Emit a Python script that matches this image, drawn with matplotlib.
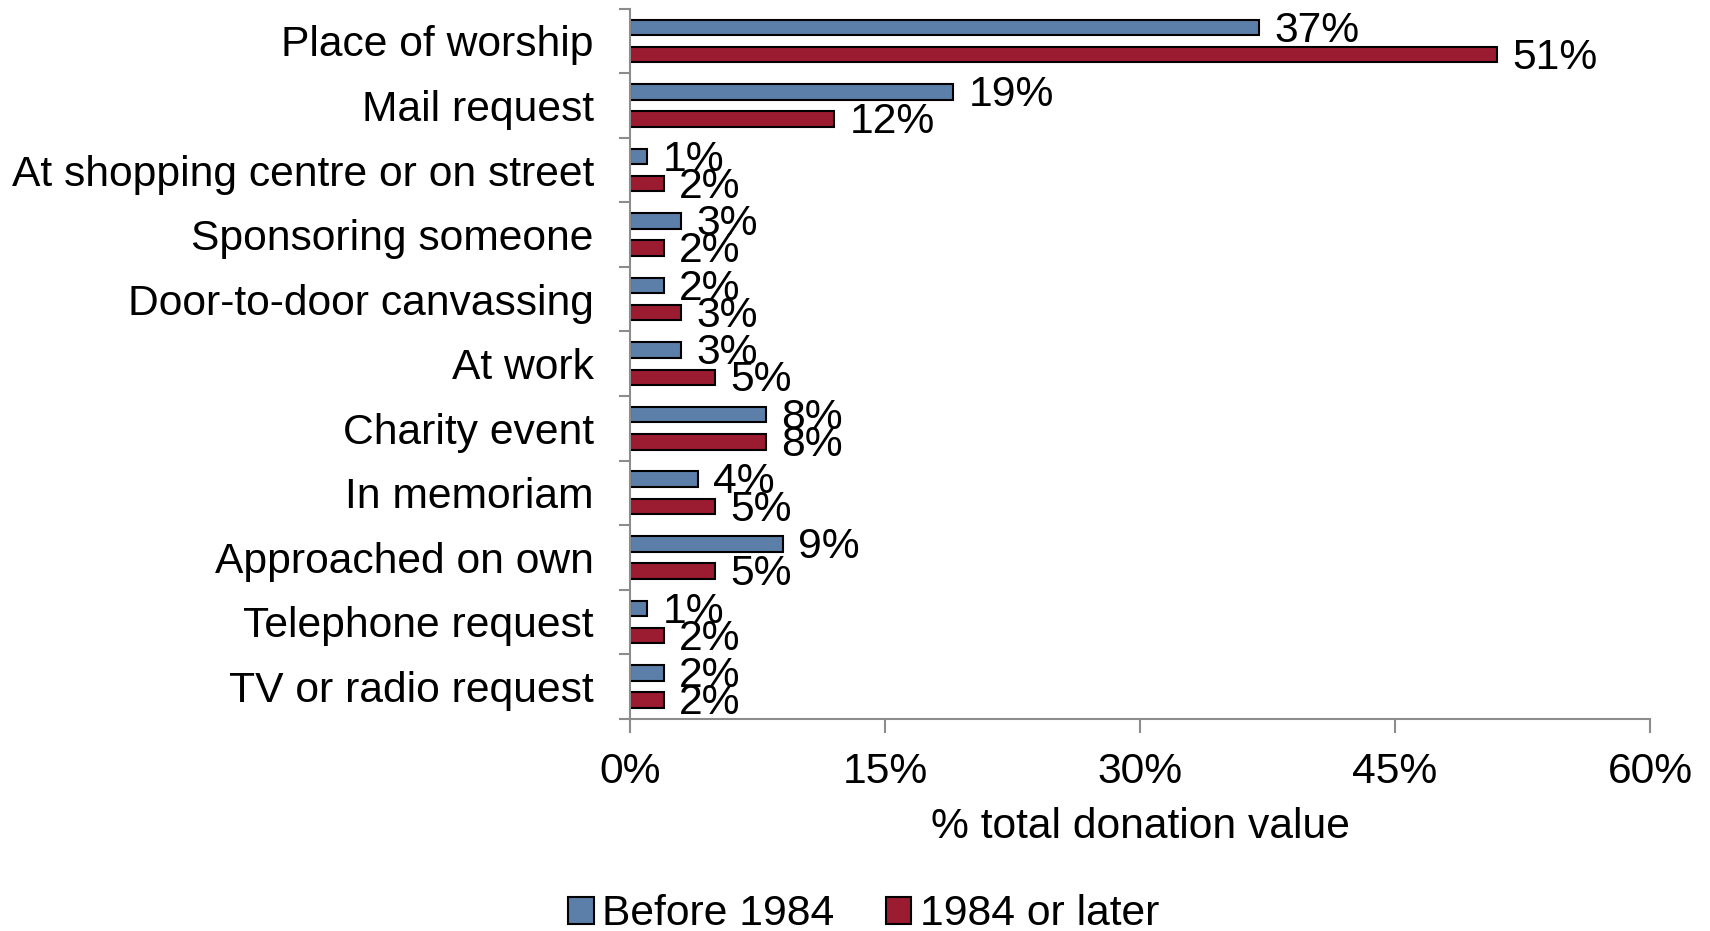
import matplotlib.pyplot as plt
import numpy as np
from matplotlib.patches import Patch
from matplotlib.ticker import FixedLocator

categories = ["Place of worship", "Mail request", "At shopping centre or on street",
              "Sponsoring someone", "Door-to-door canvassing", "At work",
              "Charity event", "In memoriam", "Approached on own",
              "Telephone request", "TV or radio request"]
before_1984 = [37, 19, 1, 3, 2, 3, 8, 4, 9, 1, 2]
after_1984 = [51, 12, 2, 2, 3, 5, 8, 5, 5, 2, 2]
x_ticks = [0, 15, 30, 45, 60]

blue = "#5b7fa8"
red = "#9b1b30"
grey = "#8c8c8c"

plt.rcParams['font.family'] = ['Liberation Sans', 'DejaVu Sans']
fs = 30.7

fig = plt.figure(figsize=(17.1, 9.31), dpi=100)
ax = fig.add_axes([0.3684, 0.228, 0.5965, 0.7627])

y = np.arange(len(categories))
h = 0.24
off = 0.21
ax.barh(y - off, before_1984, height=h, color=blue, edgecolor="black", linewidth=1.5)
ax.barh(y + off, after_1984, height=h, color=red, edgecolor="black", linewidth=1.5)

# value labels just right of each bar
for yi, v in zip(y, before_1984):
    ax.text(v + 0.9, yi - off + 0.05, f"{v}%", va="center", ha="left", fontsize=fs)
for yi, v in zip(y, after_1984):
    ax.text(v + 0.9, yi + off + 0.05, f"{v}%", va="center", ha="left", fontsize=fs)

ax.set_ylim(len(categories) - 0.5, -0.5)
ax.set_xlim(0, 60)
ax.set_yticks(y)
ax.set_yticklabels(categories, fontsize=fs)
ax.yaxis.set_minor_locator(FixedLocator(np.arange(len(categories) + 1) - 0.5))
ax.tick_params(axis="y", which="major", length=0, pad=26)
ax.tick_params(axis="y", which="minor", length=8, width=1.5, color=grey)
ax.set_xticks(x_ticks)
ax.set_xticklabels([f"{t}%" for t in x_ticks], fontsize=fs)
ax.tick_params(axis="x", length=10, width=1.5, color=grey, pad=14)
ax.set_xlabel("% total donation value", fontsize=fs, labelpad=11)

for s in ["top", "right"]:
    ax.spines[s].set_visible(False)
for s in ["left", "bottom"]:
    ax.spines[s].set_color(grey)
    ax.spines[s].set_linewidth(1.5)

handles = [Patch(facecolor=blue, edgecolor="black", linewidth=1.5, label="Before 1984"),
           Patch(facecolor=red, edgecolor="black", linewidth=1.5, label="1984 or later")]
fig.legend(handles=handles, loc="center", bbox_to_anchor=(0.505, 0.018), ncol=2,
           frameon=False, fontsize=fs, handlelength=0.6, handleheight=0.6,
           handletextpad=0.2, columnspacing=1.2)

fig.savefig("out.png", dpi=100)
